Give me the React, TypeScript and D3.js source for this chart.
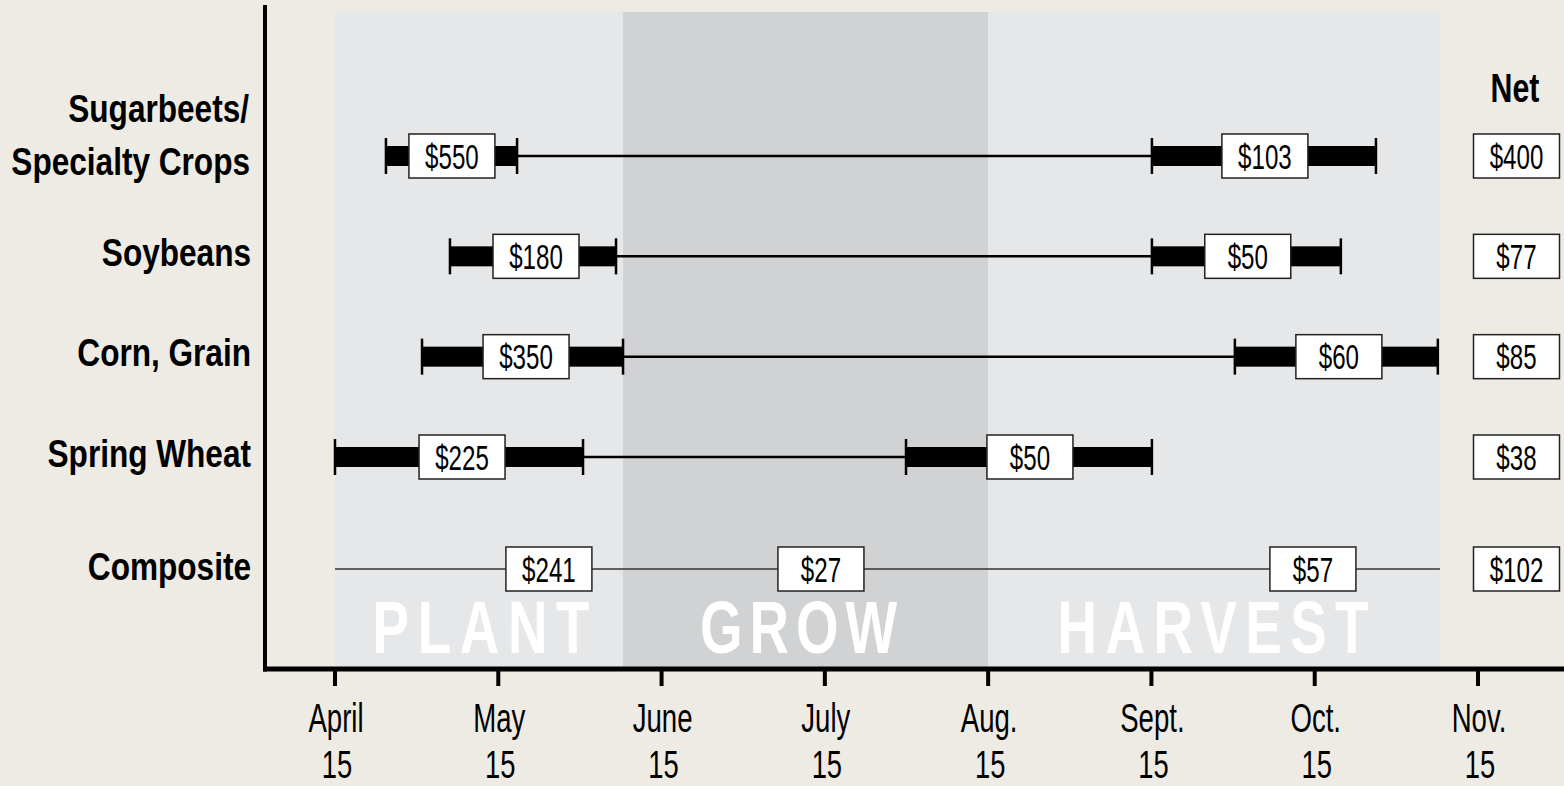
import React from "react";
import * as d3 from "d3";

// Positions in months after April 15
const crops = ["Sugarbeets/|Specialty Crops", "Soybeans", "Corn, Grain", "Spring Wheat"];
const plantStart = [0.312, 0.704, 0.533, 0];
const plantEnd = [1.115, 1.721, 1.764, 1.519];
const harvestStart = [5.003, 5.003, 5.511, 3.497];
const harvestEnd = [6.375, 6.16, 6.754, 5.003];
const plantCost = ["$550", "$180", "$350", "$225"];
const plantCostAt = [0.716, 1.231, 1.17, 0.778];
const harvestCost = ["$103", "$50", "$60", "$50"];
const harvestCostAt = [5.695, 5.59, 6.148, 4.256];
const netValues = ["$400", "$77", "$85", "$38"];

const compositeLabel = "Composite";
const compositeRange = [0, 6.767];
const compositeCosts = ["$241", "$27", "$57"];
const compositeCostAt = [1.31, 2.976, 5.989];
const compositeNet = "$102";

const phases = ["PLANT", "GROW", "HARVEST"];
const phaseBounds = [0, 1.764, 4.0, 6.767];

const tickMonths = ["April", "May", "June", "July", "Aug.", "Sept.", "Oct.", "Nov."];
const tickDay = "15";

const W = 1564;
const H = 786;
const FONT = "'Liberation Sans', Arial, Helvetica, sans-serif";

function CText(props: {
  x: number;
  y: number;
  sx: number;
  size: number;
  weight?: string | number;
  anchor?: string;
  fill?: string;
  children: React.ReactNode;
}) {
  const { x, y, sx, size, weight = "normal", anchor = "middle", fill = "#000", children } = props;
  return (
    <text
      transform={`translate(${x},${y}) scale(${sx},1)`}
      textAnchor={anchor}
      fontFamily={FONT}
      fontSize={size}
      fontWeight={weight}
      fill={fill}
    >
      {children}
    </text>
  );
}

function ValueBox(props: { cx: number; cy: number; label: string }) {
  const { cx, cy, label } = props;
  const bw = 86;
  const bh = 44;
  return (
    <g>
      <rect x={cx - bw / 2} y={cy - bh / 2} width={bw} height={bh} fill="#fff" stroke="#222" strokeWidth={1.5} />
      <CText x={cx} y={cy + 12.5} sx={0.69} size={35}>
        {label}
      </CText>
    </g>
  );
}

export default function App() {
  const x = d3.scaleLinear().domain([0, 7]).range([335, 1478]);
  const y = d3.scalePoint<string>().domain(crops).range([156, 457]);
  const compositeY = 569;
  const netX = 1516.5;
  const axisY = 669;
  const plotTop = 12;
  const phaseFills = ["#e6e7e9", "#d1d2d4", "#e6e7e9"];
  const barH = 20;
  const capH = 36;

  const segment = (s: number, e: number, cy: number, key: string) => (
    <g key={key}>
      <rect x={x(s)} y={cy - barH / 2} width={x(e) - x(s)} height={barH} fill="#000" />
      <line x1={x(s)} x2={x(s)} y1={cy - capH / 2} y2={cy + capH / 2} stroke="#000" strokeWidth={2.5} />
      <line x1={x(e)} x2={x(e)} y1={cy - capH / 2} y2={cy + capH / 2} stroke="#000" strokeWidth={2.5} />
    </g>
  );

  const phaseWidths = [217, 197, 311];
  const phaseShift = [2, -7, -1];

  return (
    <svg width={W} height={H} style={{ position: "absolute", left: 0, top: 0, display: "block" }}>
      <rect x={0} y={0} width={W} height={H} fill="#eeebe4" />

      {/* phase bands */}
      {phases.map((p, i) => (
        <rect
          key={p}
          x={x(phaseBounds[i])}
          y={plotTop}
          width={x(phaseBounds[i + 1]) - x(phaseBounds[i])}
          height={axisY - plotTop}
          fill={phaseFills[i]}
        />
      ))}
      {phases.map((p, i) => {
        const cx = (x(phaseBounds[i]) + x(phaseBounds[i + 1])) / 2 + phaseShift[i];
        const sx = 0.74;
        return (
          <text
            key={p + "t"}
            transform={`translate(${cx},653) scale(${sx},1)`}
            textAnchor="middle"
            fontFamily={FONT}
            fontWeight="bold"
            fontSize={74}
            fill="#fff"
            textLength={phaseWidths[i] / sx}
            lengthAdjust="spacing"
          >
            {p}
          </text>
        );
      })}

      {/* crop rows */}
      {crops.map((c, i) => {
        const cy = y(c) as number;
        const lines = c.split("|");
        return (
          <g key={c}>
            <line x1={x(plantEnd[i])} x2={x(harvestStart[i])} y1={cy} y2={cy} stroke="#000" strokeWidth={2.5} />
            {segment(plantStart[i], plantEnd[i], cy, "p")}
            {segment(harvestStart[i], harvestEnd[i], cy, "h")}
            <ValueBox cx={x(plantCostAt[i])} cy={cy} label={plantCost[i]} />
            <ValueBox cx={x(harvestCostAt[i])} cy={cy} label={harvestCost[i]} />
            <ValueBox cx={netX} cy={cy} label={netValues[i]} />
            {lines.length === 1 ? (
              <CText x={251} y={cy + 9.5} sx={0.81} size={39} weight="bold" anchor="end">
                {lines[0]}
              </CText>
            ) : (
              <>
                <CText x={249} y={cy - 34} sx={0.81} size={39} weight="bold" anchor="end">
                  {lines[0]}
                </CText>
                <CText x={250} y={cy + 19} sx={0.81} size={39} weight="bold" anchor="end">
                  {lines[1]}
                </CText>
              </>
            )}
          </g>
        );
      })}

      {/* composite */}
      <line x1={x(compositeRange[0])} x2={x(compositeRange[1])} y1={compositeY} y2={compositeY} stroke="#333" strokeWidth={1.5} />
      {compositeCosts.map((v, i) => (
        <ValueBox key={"c" + i} cx={x(compositeCostAt[i])} cy={compositeY} label={v} />
      ))}
      <ValueBox cx={netX} cy={compositeY} label={compositeNet} />
      <CText x={251} y={compositeY + 11} sx={0.81} size={39} weight="bold" anchor="end">
        {compositeLabel}
      </CText>

      {/* Net header */}
      <CText x={1515} y={102} sx={0.74} size={41} weight="bold">
        Net
      </CText>

      {/* axes */}
      <line x1={265} x2={265} y1={5} y2={axisY + 2.5} stroke="#000" strokeWidth={4} />
      <line x1={263} x2={W} y1={axisY} y2={axisY} stroke="#000" strokeWidth={5} />
      {tickMonths.map((m, i) => (
        <g key={m}>
          <line x1={x(i)} x2={x(i)} y1={axisY} y2={686} stroke="#000" strokeWidth={4} />
          <CText x={x(i) + 1} y={732} sx={0.69} size={40}>
            {m}
          </CText>
          <CText x={x(i) + 2} y={778} sx={0.72} size={38}>
            {tickDay}
          </CText>
        </g>
      ))}
    </svg>
  );
}
